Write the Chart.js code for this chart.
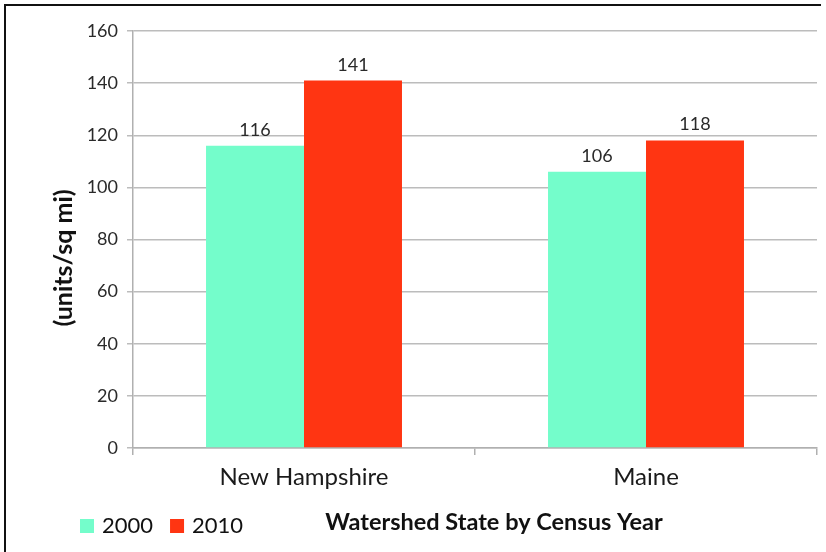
<!DOCTYPE html>
<html>
<head>
<meta charset="utf-8">
<script src="https://cdn.jsdelivr.net/npm/chart.js@4/dist/chart.umd.min.js"></script>
<style>
  html, body { margin: 0; padding: 0; background: #fff; }
  #wrap { position: absolute; left: 0; top: 0; width: 826px; height: 552px; }
</style>
</head>
<body>
<div id="wrap"><canvas id="c" width="826" height="552"></canvas></div>
<script>
const categories = ['New Hampshire', 'Maine'];
const seriesLabels = ['2000', '2010'];
const values2000 = [116, 106];
const values2010 = [141, 118];
const yMin = 0, yMax = 160, yStep = 20;
const xTitle = 'Watershed State by Census Year';
const yTitle = '(units/sq mi)';
const colors = ['#74fdcb', '#ff3512'];

const FONT = 'Lato, "Open Sans", sans-serif';

const decor = {
  id: 'decor',
  beforeDraw(chart) {
    const ctx = chart.ctx;
    ctx.save();
    ctx.fillStyle = '#fff';
    ctx.fillRect(0, 0, chart.width, chart.height);
    ctx.strokeStyle = '#111';
    ctx.lineWidth = 2;
    ctx.beginPath();
    ctx.moveTo(5, 560);
    ctx.lineTo(5, 5);
    ctx.lineTo(821, 5);
    ctx.stroke();
    ctx.restore();
  },
  afterDatasetsDraw(chart) {
    const ctx = chart.ctx;
    ctx.save();
    ctx.font = '18px ' + FONT;
    ctx.fillStyle = '#2a2a2a';
    ctx.textAlign = 'center';
    ctx.textBaseline = 'alphabetic';
    chart.data.datasets.forEach((ds, i) => {
      chart.getDatasetMeta(i).data.forEach((bar, j) => {
        ctx.fillText(String(ds.data[j]), bar.x, bar.y - 10);
      });
    });
    ctx.restore();
  },
  afterDraw(chart) {
    const ctx = chart.ctx;
    ctx.save();
    // legend
    ctx.font = '22px ' + FONT;
    ctx.textBaseline = 'middle';
    ctx.textAlign = 'left';
    let x = 80;
    const yMid = 526;
    chart.data.datasets.forEach((ds) => {
      ctx.fillStyle = ds.backgroundColor;
      ctx.fillRect(x, yMid - 7, 14, 14);
      x += 22;
      ctx.fillStyle = '#111';
      ctx.fillText(ds.label, x, yMid);
      x += ctx.measureText(ds.label).width + 17;
    });
    // x title
    ctx.font = 'bold 23.5px ' + FONT;
    ctx.textAlign = 'center';
    ctx.fillStyle = '#111';
    ctx.fillText(xTitle, 494, 522);
    // y title
    ctx.font = 'bold 25px ' + FONT;
    ctx.translate(64, 258);
    ctx.rotate(-Math.PI / 2);
    ctx.fillText(yTitle, 0, 0);
    ctx.restore();
  }
};

new Chart(document.getElementById('c'), {
  type: 'bar',
  data: {
    labels: categories,
    datasets: [
      { label: seriesLabels[0], data: values2000, backgroundColor: colors[0] },
      { label: seriesLabels[1], data: values2010, backgroundColor: colors[1] }
    ]
  },
  options: {
    responsive: false,
    animation: false,
    devicePixelRatio: 1,
    layout: { padding: { left: 0, right: 9, top: 31, bottom: 0 } },
    plugins: { legend: { display: false }, tooltip: { enabled: false } },
    datasets: { bar: { categoryPercentage: 0.573, barPercentage: 1.0 } },
    scales: {
      x: {
        grid: { drawOnChartArea: false, drawTicks: true, tickLength: 7, color: '#b0b0b0', lineWidth: 1.5 },
        border: { color: '#b0b0b0', width: 1.5 },
        ticks: { font: { family: FONT, size: 24 }, color: '#1a1a1a', padding: 8 },
        afterFit(scale) { scale.height = 104; }
      },
      y: {
        min: yMin, max: yMax,
        grid: { color: '#bcbcbc', lineWidth: 1.5, tickLength: 6 },
        border: { color: '#b0b0b0', width: 1.5 },
        ticks: { stepSize: yStep, font: { family: FONT, size: 18 }, color: '#2a2a2a', padding: 9 },
        afterFit(scale) { scale.width = 133; }
      }
    }
  },
  plugins: [decor]
});
</script>
</body>
</html>
